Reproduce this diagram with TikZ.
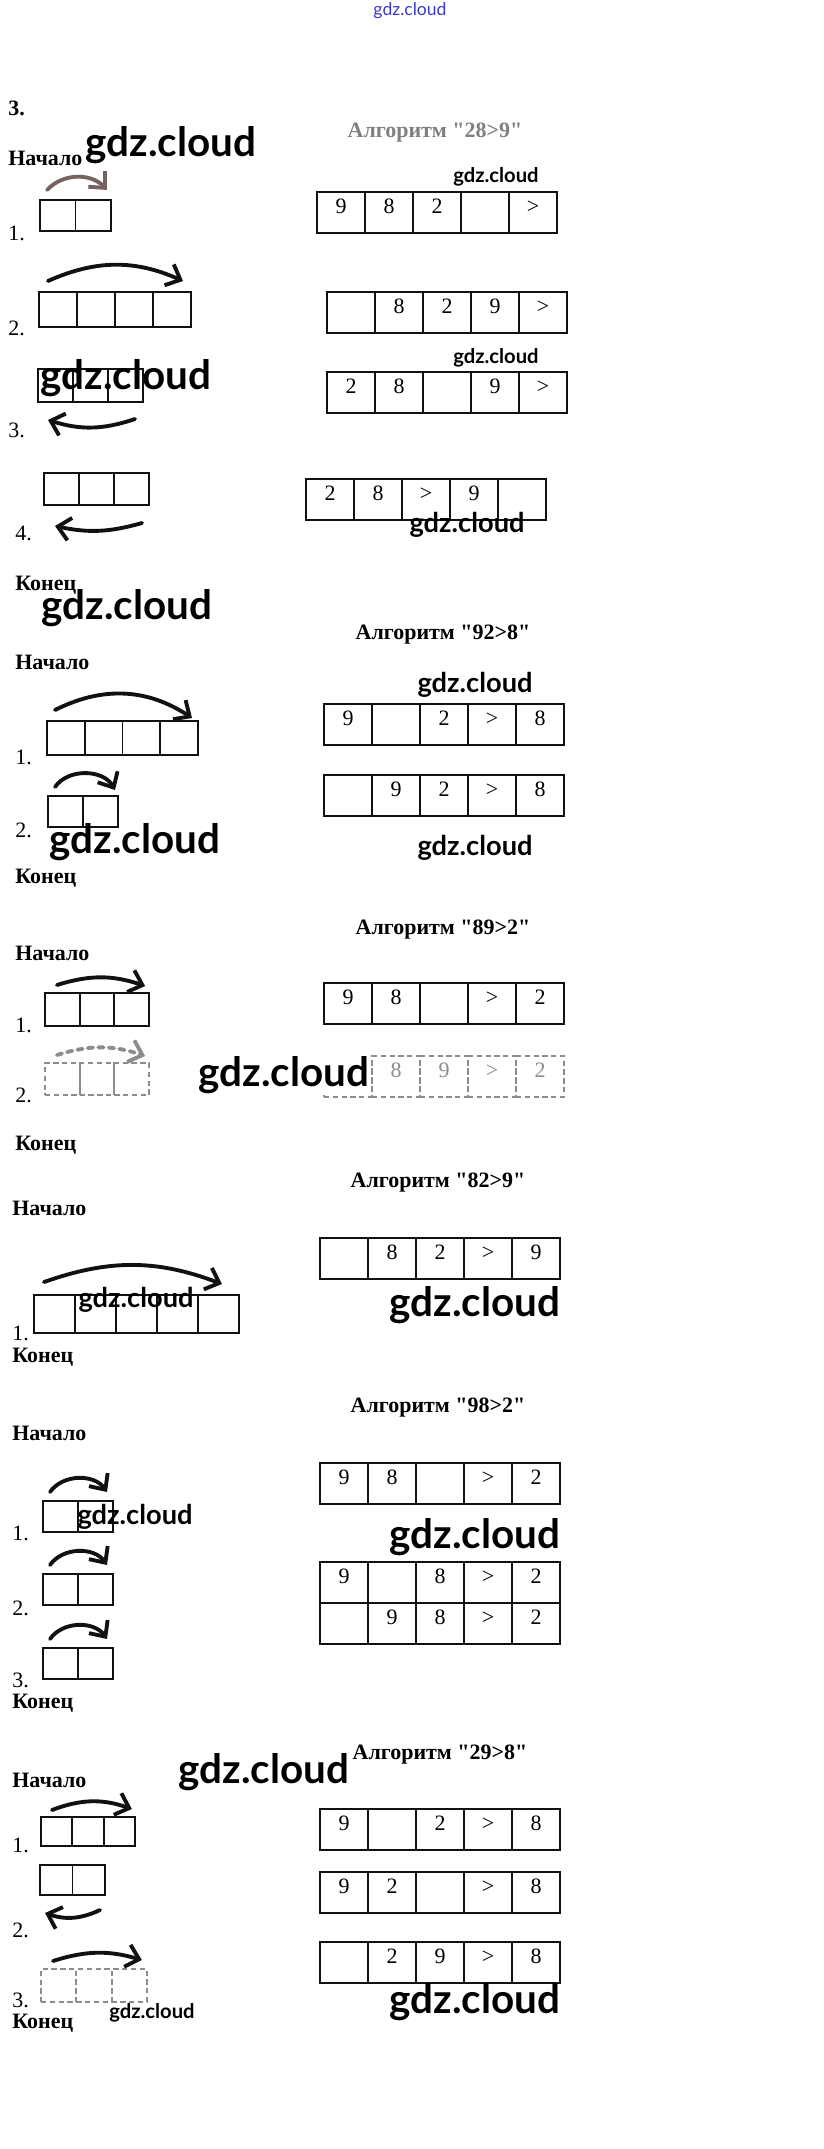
\documentclass[tikz,border=0pt]{standalone}
\usepackage{fontspec}
\setmainfont{Liberation Serif}[Ligatures=TeXOff]
\newfontfamily\wmfont{Lato}
\usetikzlibrary{arrows.meta,positioning}
\definecolor{ink}{HTML}{111111}
\definecolor{pale}{HTML}{8C8C8C}
\definecolor{rust}{HTML}{766260}
\definecolor{wmblue}{HTML}{3A3AC8}
\tikzset{tabcell/.style={draw=ink,line width=.6pt,minimum width=.96cm,minimum height=.82cm,inner sep=0pt,outer sep=0pt,anchor=north west,text height=.29cm,text depth=.25cm,font=\fontsize{12.5}{15}\selectfont},fadecell/.style={tabcell,draw=pale,densely dashed,text=pale},stepcell/.style={draw=ink,line width=1.1pt,inner sep=0pt,outer sep=0pt,anchor=north west},fadestep/.style={stepcell,draw=pale,densely dashed},swing/.style={draw=ink,line width=2.2pt,line cap=round,-{Straight Barb[length=7pt,width=13pt]}},txt/.style={anchor=west,inner sep=0pt,font=\fontsize{12.5}{15}\selectfont},hdr/.style={txt,font=\fontsize{12.5}{15}\selectfont\bfseries},algtitle/.style={inner sep=0pt,font=\fontsize{12.5}{15}\selectfont\bfseries},wmbig/.style={inner sep=0pt,font=\wmfont\bfseries\fontsize{23}{27}\selectfont},wmmid/.style={inner sep=0pt,font=\wmfont\bfseries\fontsize{15.5}{18}\selectfont},wmsmall/.style={inner sep=0pt,font=\wmfont\bfseries\fontsize{11.5}{14}\selectfont}}

\begin{document}
\begin{tikzpicture}[x=0.02cm,y=-0.02cm]
\useasboundingbox (0,0) rectangle (823,2149);
\node[inner sep=0pt,text=wmblue,font=\wmfont\fontsize{10}{12}\selectfont] (wm0) at (410,11) {gdz.cloud};
\node[hdr] (task) at (8,108) {3.};

% Algorithm "28>9"
\node[hdr] (start1) at (8,158) {Начало};
\node[algtitle,text=black!50] (alg1) at (435,133) {Алгоритм "28>9"};
\foreach \i in {0,1} \node[stepcell,minimum width=.71cm,minimum height=.62cm] (s1a-\i) at ({40+35.5*\i},200) {};
\foreach \i in {0,...,3} \node[stepcell,minimum width=.76cm,minimum height=.7cm] (s1b-\i) at ({39+38*\i},292) {};
\foreach \i in {0,1,2} \node[stepcell,minimum width=.7cm,minimum height=.66cm] (s1c-\i) at ({38+35*\i},369) {};
\foreach \i in {0,1,2} \node[stepcell,minimum width=.7cm,minimum height=.64cm] (s1d-\i) at ({44+35*\i},473) {};
\draw[swing,draw=rust] ([shift={(7,-10)}]s1a-0.north west) to[bend left=47] ([shift={(-4,-10)}]s1a-1.north east);
\draw[swing] ([shift={(9,-11)}]s1b-0.north west) to[bend left=24] ([shift={(-8,-11)}]s1b-3.north east);
\draw[swing] ([shift={(-8,17)}]s1c-2.south east) to[bend left=18] ([shift={(10,18)}]s1c-0.south west);
\draw[swing] ([shift={(-7,18)}]s1d-2.south east) to[bend left=14] ([shift={(11,21)}]s1d-0.south west);
\node[txt] (n1a) at (8,233) {1.};
\node[txt] (n1b) at (8,328) {2.};
\node[txt] (n1c) at (8,430) {3.};
\node[txt] (n1d) at (15,533) {4.};
\node[hdr] (end1) at (15,585) {Конец};
\foreach \v [count=\i from 0] in {9,8,2,{},>} \node[tabcell] (t1a-\i) at ({317+48*\i},192) {\v};
\foreach \v [count=\i from 0] in {{},8,2,9,>} \node[tabcell] (t1b-\i) at ({327+48*\i},292) {\v};
\foreach \v [count=\i from 0] in {2,8,{},9,>} \node[tabcell] (t1c-\i) at ({327+48*\i},372) {\v};
\foreach \v [count=\i from 0] in {2,8,>,9,{}} \node[tabcell] (t1d-\i) at ({306+48*\i},479) {\v};

% Algorithm "92>8"
\node[hdr] (start2) at (15,662) {Начало};
\node[algtitle] (alg2) at (443,635) {Алгоритм "92>8"};
\foreach \i in {0,...,3} \node[stepcell,minimum width=.755cm,minimum height=.68cm] (s2a-\i) at ({47+37.75*\i},721) {};
\foreach \i in {0,1} \node[stepcell,minimum width=.7cm,minimum height=.62cm] (s2b-\i) at ({48+35*\i},796) {};
\draw[swing] ([shift={(8,-11)}]s2a-0.north west) to[bend left=30] ([shift={(-6,-3)}]s2a-3.north east);
\draw[swing] ([shift={(7,-9)}]s2b-0.north west) to[bend left=58] ([shift={(-3,-6)}]s2b-1.north east);
\node[txt] (n2a) at (15,757) {1.};
\node[txt] (n2b) at (15,830) {2.};
\node[hdr] (end2) at (15,878) {Конец};
\foreach \v [count=\i from 0] in {9,{},2,>,8} \node[tabcell] (t2a-\i) at ({324+48*\i},704) {\v};
\foreach \v [count=\i from 0] in {{},9,2,>,8} \node[tabcell] (t2b-\i) at ({324+48*\i},775) {\v};

% Algorithm "89>2"
\node[hdr] (start3) at (15,953) {Начало};
\node[algtitle] (alg3) at (443,930) {Алгоритм "89>2"};
\foreach \i in {0,1,2} \node[stepcell,minimum width=.694cm,minimum height=.66cm] (s3a-\i) at ({45+34.7*\i},993) {};
\foreach \i in {0,1,2} \node[fadestep,minimum width=.694cm,minimum height=.64cm] (s3b-\i) at ({45+34.7*\i},1063) {};
\draw[swing] ([shift={(12,-8)}]s3a-0.north west) to[bend left=18] ([shift={(-4,-7)}]s3a-2.north east);
\draw[swing,draw=pale,dashed] ([shift={(12,-8)}]s3b-0.north west) to[bend left=18] ([shift={(-4,-7)}]s3b-2.north east);
\node[txt] (n3a) at (15,1025) {1.};
\node[txt] (n3b) at (15,1095) {2.};
\node[hdr] (end3) at (15,1145) {Конец};
\foreach \v [count=\i from 0] in {9,8,{},>,2} \node[tabcell] (t3a-\i) at ({324+48*\i},983) {\v};
\foreach \v [count=\i from 0] in {{},8,9,>,2} \node[fadecell] (t3b-\i) at ({324+48*\i},1056) {\v};

% Algorithm "82>9"
\node[hdr] (start4) at (12,1208) {Начало};
\node[algtitle] (alg4) at (438,1183) {Алгоритм "82>9"};
\foreach \i in {0,...,4} \node[stepcell,minimum width=.82cm,minimum height=.76cm] (s4a-\i) at ({34+41*\i},1295) {};
\draw[swing] ([shift={(10,-13)}]s4a-0.north west) to[bend left=20] ([shift={(-17,-11)}]s4a-4.north east);
\node[txt] (n4a) at (12,1333) {1.};
\node[hdr] (end4) at (12,1357) {Конец};
\foreach \v [count=\i from 0] in {{},8,2,>,9} \node[tabcell] (t4a-\i) at ({320+48*\i},1238) {\v};

% Algorithm "98>2"
\node[hdr] (start5) at (12,1433) {Начало};
\node[algtitle] (alg5) at (438,1408) {Алгоритм "98>2"};
\foreach \r/\y in {a/1501,b/1574,c/1648} {
  \foreach \i in {0,1} \node[stepcell,minimum width=.7cm,minimum height=.62cm] (s5\r-\i) at ({43+35*\i},\y) {};
  \draw[swing] ([shift={(7,-9)}]s5\r-0.north west) to[bend left=55] ([shift={(-6,-9)}]s5\r-1.north east);
}
\node[txt] (n5a) at (12,1533) {1.};
\node[txt] (n5b) at (12,1608) {2.};
\node[txt] (n5c) at (12,1680) {3.};
\node[hdr] (end5) at (12,1703) {Конец};
\foreach \v [count=\i from 0] in {9,8,{},>,2} \node[tabcell] (t5a-\i) at ({320+48*\i},1463) {\v};
\foreach \v [count=\i from 0] in {9,{},8,>,2} \node[tabcell] (t5b-\i) at ({320+48*\i},1562) {\v};
\foreach \v [count=\i from 0] in {{},9,8,>,2} \node[tabcell] (t5c-\i) at ({320+48*\i},1603) {\v};

% Algorithm "29>8"
\node[hdr] (start6) at (12,1780) {Начало};
\node[algtitle] (alg6) at (440,1755) {Алгоритм "29>8"};
\foreach \i in {0,1,2} \node[stepcell,minimum width=.626cm,minimum height=.58cm] (s6a-\i) at ({41+31.3*\i},1817) {};
\foreach \i in {0,1} \node[stepcell,minimum width=.65cm,minimum height=.6cm] (s6b-\i) at ({40+32.5*\i},1865) {};
\foreach \i in {0,1,2} \node[fadestep,minimum width=.706cm,minimum height=.66cm] (s6c-\i) at ({41+35.3*\i},1969) {};
\draw[swing] ([shift={(11,-7)}]s6a-0.north west) to[bend left=20] ([shift={(-3,-8)}]s6a-2.north east);
\draw[swing] ([shift={(-5,15)}]s6b-1.south east) to[bend left=22] ([shift={(5,18)}]s6b-0.south west);
\draw[swing] ([shift={(12,-8)}]s6c-0.north west) to[bend left=17] ([shift={(-5,-9)}]s6c-2.north east);
\node[txt] (n6a) at (12,1845) {1.};
\node[txt] (n6b) at (12,1930) {2.};
\node[txt] (n6c) at (12,2000) {3.};
\node[hdr] (end6) at (12,2023) {Конец};
\foreach \v [count=\i from 0] in {9,{},2,>,8} \node[tabcell] (t6a-\i) at ({320+48*\i},1809) {\v};
\foreach \v [count=\i from 0] in {9,2,{},>,8} \node[tabcell] (t6b-\i) at ({320+48*\i},1872) {\v};
\foreach \v [count=\i from 0] in {{},2,9,>,8} \node[tabcell] (t6c-\i) at ({320+48*\i},1942) {\v};

% watermarks
\node[wmbig] (wm1) at (171,145) {gdz.cloud};
\node[wmsmall] (wm2) at (496,177) {gdz.cloud};
\node[wmsmall] (wm3) at (496,358) {gdz.cloud};
\node[wmbig] (wm4) at (126,378) {gdz.cloud};
\node[wmmid] (wm5) at (467,525) {gdz.cloud};
\node[wmbig] (wm6) at (127,608) {gdz.cloud};
\node[wmmid] (wm7) at (475,685) {gdz.cloud};
\node[wmbig] (wm8) at (135,842) {gdz.cloud};
\node[wmmid] (wm9) at (475,848) {gdz.cloud};
\node[wmbig,fill=white,inner sep=1pt] (wm10) at (284,1075) {gdz.cloud};
\node[wmmid] (wm11) at (136,1300) {gdz.cloud};
\node[wmbig] (wm12) at (475,1305) {gdz.cloud};
\node[wmmid] (wm13) at (135,1517) {gdz.cloud};
\node[wmbig] (wm14) at (475,1537) {gdz.cloud};
\node[wmbig] (wm15) at (264,1772) {gdz.cloud};
\node[wmsmall] (wm16) at (152,2013) {gdz.cloud};
\node[wmbig] (wm17) at (475,2002) {gdz.cloud};
\end{tikzpicture}
\end{document}
